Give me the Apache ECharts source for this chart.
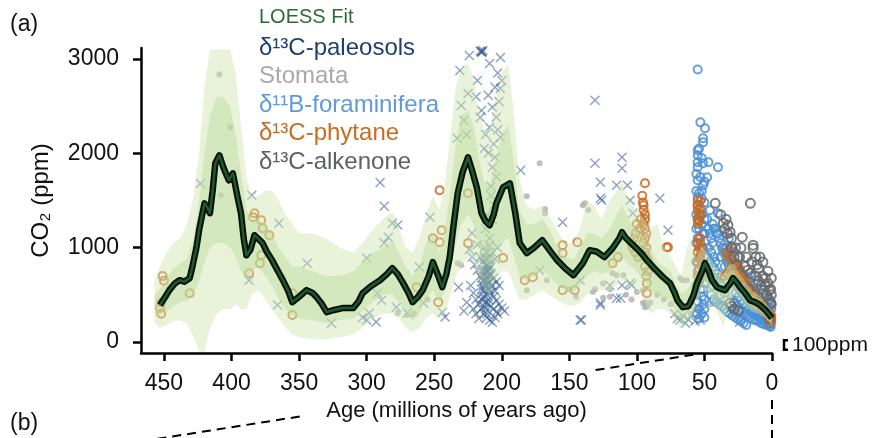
<!DOCTYPE html>
<html><head><meta charset="utf-8">
<script src="https://cdn.jsdelivr.net/npm/echarts@6/dist/echarts.min.js"></script>
<style>html,body{margin:0;padding:0;background:#fff}#main{width:872px;height:438px}</style>
</head><body><div id="main"></div>
<script>
const SANS = '"Liberation Sans",Arial,Helvetica,sans-serif';

// Axis ticks
const xTicks = [0, 50, 100, 150, 200, 250, 300, 350, 400, 450];
const yTicks = [0, 1000, 2000, 3000];

// LOESS fit: [age Ma, CO2 ppm]
const loess = [
  [453,392],[449,480],[446,550],[442,620],[438.5,656],[435,640],[431,677],[429,794],[426,1000],[424,1185],
  [422,1330],[420,1470],[418,1430],[416,1365],[414,1600],[412,1894],[409,1979],[406,1850],[404,1780],[402,1714],
  [399,1788],[395.5,1534],[393,1365],[391,1100],[389,920],[386,980],[383,1132],[380,1090],[377,1048],[374,960],
  [370,868],[366,760],[362,656],[358,540],[355,423],[350,480],[344.5,550],[340,520],[337,476],[333,400],
  [329.6,317],[324,340],[318,360],[310,360],[306,430],[303,518],[297,590],[290,656],[285,720],[281,783],
  [277,720],[273,624],[269,520],[266,423],[262,480],[258.5,550],[254,700],[251,847],[247,700],[244,582],
  [241,720],[238.5,900],[236,1200],[232.6,1577],[229,1800],[225,1958],[222,1820],[218.5,1640],[215,1365],[212,1280],
  [209,1238],[206,1350],[204,1470],[199,1640],[194,1682],[190,1365],[186.7,1048],[181.5,942],[176,1000],[170,1079],
  [166,1000],[163,942],[159,868],[153,780],[147,709],[143,780],[140,836],[135,973],[130,960],[124,900],
  [118,994],[113,1100],[111,1164],[108,1100],[105,1058],[100,990],[96,930],[92.6,868],[87,780],[80.7,688],
  [75.5,624],[72,520],[70,444],[66,370],[62,380],[60.7,413],[58,500],[55.5,624],[52,740],[49.6,836],
  [47,760],[44.4,656],[40.7,582],[37,560],[34.8,550],[31,620],[28.9,677],[26,630],[23.7,582],[20,520],
  [16.3,444],[12,420],[8.9,392],[5,340],[2,290],[0,254]
];

// Uncertainty envelopes: [age, outer low, inner low, inner high, outer high]
const bands = [
  [457,200,300,500,650],[453,150,280,560,800],[448,180,320,680,950],[443,220,380,780,1050],[438,230,420,830,1100],
  [433,200,440,880,1250],[428,50,500,1100,1550],[424,-100,650,1500,2000],[420,-100,850,2000,2700],[416,150,1000,2400,3100],
  [411,300,1050,2600,3100],[406,350,1050,2600,3100],[401,350,1000,2500,3100],[397,400,900,2200,2850],[393,350,750,1800,2300],
  [389,350,650,1400,1750],[385,500,750,1300,1550],[380,550,800,1300,1550],[375,450,700,1250,1600],[370,350,600,1150,1600],
  [365,250,450,1000,1500],[360,150,350,900,1350],[355,80,270,800,1250],[350,50,250,800,1150],[340,30,230,750,1150],
  [330,30,200,700,1100],[320,50,230,700,1000],[310,80,250,750,950],[303,150,330,850,1050],[295,250,430,950,1200],
  [288,300,500,1000,1300],[281,300,500,1080,1380],[276,250,420,950,1200],[271,150,300,800,1000],[266,100,230,700,950],
  [261,150,300,800,1100],[256,250,450,1050,1350],[251,300,550,1150,1550],[246,250,420,950,1400],[242,300,550,1200,1700],
  [238,500,750,1600,2200],[234,700,1050,2100,2700],[230,800,1250,2400,2900],[225,900,1350,2450,2950],[221,850,1250,2300,2800],
  [217,700,1000,1950,2450],[213,550,850,1700,2250],[209,500,800,1650,2250],[205,650,950,1900,2550],[200,750,1050,2200,2850],
  [195,750,1100,2300,2950],[191,600,900,1900,2400],[187,450,700,1400,1750],[182,450,650,1250,1450],[176,500,700,1250,1400],
  [170,550,750,1300,1450],[165,500,700,1200,1350],[160,450,620,1050,1200],[153,400,550,900,1050],[147,380,520,880,1050],
  [142,420,600,1000,1200],[137,500,700,1150,1500],[132,550,750,1150,1450],[126,550,720,1100,1300],[120,550,750,1200,1500],
  [115,600,850,1350,1600],[111,650,900,1450,1700],[106,600,820,1300,1500],[100,550,750,1200,1400],[95,450,650,1100,1300],
  [90,300,550,1000,1200],[85,350,500,850,1250],[80,350,480,800,1000],[75,300,430,750,900],[71,200,300,600,800],
  [67,150,250,520,700],[63,200,280,550,1000],[60,250,320,620,1100],[56,400,500,750,900],[52,550,650,880,1000],
  [48,550,620,850,950],[44,400,500,750,850],[40,300,450,680,760],[36,150,430,650,720],[32,400,520,750,820],
  [28,500,570,760,830],[24,450,500,660,720],[20,380,420,600,650],[15,320,360,500,550],[10,300,330,460,500],
  [5,250,270,390,420],[0,180,200,300,330]
];

// Proxy records: [age Ma, CO2 ppm]
const paleosols = [
  [423,1680],[385,1555],[365,1260],[387,656],[366,392],[344,836],[326,200],[300,890],[290,1690],[287,1440],
  [281,1260],[277,1240],[284,1110],[287,1050],[292,518],[289,444],[278,370],[298,307],[300,233],[293,212],
  [303,260],[270,307],[258,413],[244,317],[242,265],[253,1323],[261,794],[232,582],[222,1153],[172,762],
  [155,1270],[142,656],[127,392],[142,233],[115,465],[105,624],[127,1524],[115,1661],[107,1661],[103,1365],
  [131,2561],[131,1894],[111,1958],[111,1841],[127,1693],[126,1502],[105,1502],[83,1524],[77,1185],[112,465],
  [120,603],[111,603],[104,603],[141,233],[68,233],[53,233],[55,370],[24,212],[22,300],[127,413],[186,1820],
  [231,2878],[224,3037],[218,2772],[225,2635],[230,2508],[233,2159],[215,2455],[210,2614],[209,2952],[201,3016],
  [200,2772],[201,2688],[207,2487],[209,2275],[204,2381],[201,2169],[205,1958],[207,1852],[203,2850],[205,2700],
  [202,2550],[203,2250],[206,2100],[204,1750],[208,1650],[212,2200],[213,2050],[228,2350],[226,2200],[219,2600],
  [216,2380],[210,2000],[208,1550],[206,1450],[211,1350],[212,1200],[207,1300],[209,1100],[203,1000],
  [215,3080],[214,3090],[216,3085],[215,3070],[214.5,3075],
  [224,980],[222,900],[220,820],[218,760],[216,700],[214,650],[212,600],[210,560],[208,520],[206,480],
  [204,440],[202,400],[200,360],[198,330],[223,600],[221,520],[219,450],[217,400],[215,350],[213,300],
  [211,260],[209,230],[207,210],[205,260],[203,300],[216,900],[214,850],[212,800],[210,760],[208,720],
  [206,680],[204,640],[202,600],[213,720],[211,680],[209,640],[211,820],[209,900],[207,950],[205,880],
  [219,300],[217,250],[221,350],[213,480],[215,560],[207,600],[205,540],[210,400],[212,420],[214,470],
  [226,420],[228,330],[218,1030],[213,1000],[209,1020],
  [211,750],[212,700],[210,700],[211,650],[212,760],[210,800],[209,780],[213,650],[214,600],[210,620],
  [212,550],[211,500],[213,560],[209,560],[208,600],[211,600],[212,880],[210,880],[211,950],[213,900],
  [208,800],[214,760],[215,680],[209,700],[210,450],[212,350],[208,380],[211,300],[213,380],[206,350],
  [204,320],[215,450],
  [72,300],[70,250],[66,280],[64,200],[62,240],[59,300],[57,220]
];
const stomata = [
  [409,2836],[401,2275],[408,1555],[277,307],[270,286],[172,1894],[181.5,1545],[168,1410],[168,1365],[140,1450],
  [136,1400],[138.5,1470],[232.6,836],[230,815],[181.5,550],[166.7,656],[132.6,530],[131,560],[118,730],[115,709],
  [110,709],[98,900],[95.5,550],[94,423],[94,370],[66,656],[63,656],[68,677],[40.7,423],[36,413],
  [31,465],[27,370],[100,530],[95.5,413],[245,700],[255,450],[265,300],[150,560],[145,480],[125,620],
  [120,560],[85,500],[80,450],[75,400],[60,300],[57,350],[45,400],[18,330],[12,280],[125,470],
  [120,480],[108,500],[104,450],[92,380],[90,420]
];
const foraminifera = [
  [55,2889],[53,2328],[49.6,2265],[51,2159],[51,2116],[55,2032],[55,1979],[55,1905],[51,1894],[47,1905],
  [40,1852],[55,1852],[55,1714],[51,1661],[48,1746],[55,1534],[46,1397],[40,1365],[55,1450],[53,1400],
  [55,1300],[54,1200],[52,1250],[50,1150],[55,1100],[53,1050],[55,950],[54,880],[52,800],[55,750],
  [54,650],[53,560],[52,480],[55,430],[54,350],
  [56,1600],[54,1580],[52,1520],[50,1480],[56,1350],[52,1350],[50,1300],[56,1200],[51,1150],[56,1050],
  [51,1000],[50,900],[56,850],[51,700],[50,620],[56,600],[51,560],[50,450],[56,500],[51,400],
  [50,350],[56,300],[52,300],[54,250],[50,260],[53,1750],[52,1950],[54,2050],[56,1780],[52,1600],[50,1700],
  [48,1300],[47,1200],[46,1150],[45,1100],[44,1050],[47,1000],[45,950],[43,900],[42,850],[48,900],
  [46,850],[44,800],[42,760],[40,720],[38,680],[41,650],[39,620],[37,600],[36,560],[35,520],
  [38,500],[44,600],[46,700],[49,750],[43,1200],[41,1150],[39,1100],[37,1000],[36,950],[34,900],
  [33,850],[32,800],[31,760],[30,720],[35,800],[38,900],
  [44,1250],[42,1200],[40,1150],[38,1050],[36,1000],[34,1000],[33,950],[31,900],[29,850],[27,800],
  [25,750],[23,700],[21,650],[19,600],[17,550],[15,500],[13,480],[11,450],[9,420],[7,380],
  [5,340],[3,300],[1,260],[45,500],[43,450],[41,420],[39,400],[37,380],[35,350],[33,320],
  [31,300],[29,280],[27,260],[25,240],[23,220],[21,200],[19,180],
  [29,680],[28,650],[27,620],[26,600],[25,580],[24,560],[23,540],[22,520],[21,500],[20,480],
  [19,460],[18,440],[17,420],[16,400],[15,380],[14,360],[13,350],[12,340],[11,330],[10,320],
  [9,310],[8,300],[7,290],[6,280],[5,270],[4,260],[3,250],[2,240],[1,230],[0.5,220],
  [28,420],[26,380],[24,340],[22,320],[20,300],[18,280],[16,260],[14,240],[12,230],[10,220],
  [8,200],[6,190],[4,180],[2,170],[1,160],[27,520],[25,480],[23,440],[21,410],[19,380],
  [17,350],[15,320],[13,300],[11,280],[9,260],[7,240],[5,220],[3,200],[1,190],[20,700],
  [18,650],[16,600],[14,560],[12,520],[10,480],[8,440],[6,400],[4,360],[2,320],[24,750],
  [22,720],[26,800],[5,500],[3,450],[1,400],[0.5,350],[8,560],[15,700],[25,900],[30,1000],
  [32,1100],[28,950],[12,620]
];
const phytane = [
  [453,360],[452,420],[451,700],[450,650],[452,300],[383,1365],[378,1290],[379,836],[355,286],[246,1608],
  [244.5,1185],[246,1058],[247,423],[225,1048],[199,890],[183,656],[177,688],[155,1026],[155,942],[144,1058],
  [155,550],[146,550],[114,900],[118,836],[94,1682],[95.5,1480],[92.6,624],[92.6,518],[78,1005],[77,1005],
  [31,973],[25,762],
  [96,1550],[95,1450],[95,1400],[94,1350],[94,1300],[95,1250],[94,1200],[93,1150],[94,1100],[95,1050],
  [93,1000],[94,950],[93,900],[92,870],[94,800],[92,750],[93,700],[100,1250],[101,1150],[102,1100],
  [103,1000],[101,950],[99,900],[104,1050],[98,1200],[97,1300],
  [431,518],[384,1323],[377,1206],[372,1132],[387,730],[378,920],[355,518],[263,582],[251,1100],[225,1577],
  [53,1500],[53,1420],[53,1350],[54,1280],[53,1100],[52,1000],[53,900],[52,800],[53,700],
  [55,1500],[55,1450],[55,1400],[54,1350],[55,1300],[55,1250],[54,1100],[55,1050],[54,1000],[55,950],
  [54,900],[55,850],[54,780],[55,700],[54,650],
  [34,950],[32,900],[30,880],[28,850],[26,820],[24,780],[22,700],[20,650],[18,600],[16,560],
  [14,520],[12,480],[10,440],[8,400],[6,360],[4,330],[2,300],[1,270],[0.5,240],[21,560],
  [17,500],[13,430],[9,370],[5,320],[3,280],[1,200],
  [35,700],[33,720],[31,700],[29,720],[27,700],[25,650],[23,620],[21,600],[19,560],[17,520],
  [15,470],[13,450],[11,420],[9,400],[7,360],[5,330],[3,300],[2,260],[0.5,280],[30,800],
  [28,780],[26,760],[24,700],[22,660],[20,620],[18,580],[16,520],[14,480],[12,440],[10,400],
  [8,380],[6,340],[4,300]
];
const alkenone = [
  [42,1470],[16,1470],[36,1260],[32.6,1238],[31,1164],[22,1111],[14,994],[6.7,847],[5,677],[3,624],
  [16,730],[14,1026],[0.5,677],[31,413],[30,380],[28,350],[25,330],[20,800],[18,760],[12,700],
  [10,650],[8,600],[6,550],[4,500],[2,450],[1,420],[9,900],[11,820],[24,900],[27,1000],
  [30,1100],[34,1300],[7,380],[4,300],[2,250],[13,500],[17,560],[21,600],[3,750],[1,560],
  [38,1350],[35,1200],[33,1150],[30,1000],[28,900],[26,820],[23,1000],[19,900],[15,850],[12,900],
  [10,780],[7,700],[5,600],[2,550],[0.5,500],[0.5,400]
];

const colors = {
  loess: '#2e6b34', paleosols: '#1f3f72', stomata: '#a9a9a9',
  foraminifera: '#5f9bd8', phytane: '#c46d25', alkenone: '#5d6164'
};
const legendItems = [
  ['LOESS Fit', colors.loess],
  ['δ¹³C-paleosols', colors.paleosols],
  ['Stomata', colors.stomata],
  ['δ¹¹B-foraminifera', colors.foraminifera],
  ['δ¹³C-phytane', colors.phytane],
  ['δ¹³C-alkenone', colors.alkenone]
];

const CROSS = 'path://M1,0 L5,4 L9,0 L10,1 L6,5 L10,9 L9,10 L5,6 L1,10 L0,9 L4,5 L0,1 Z';

function ring(color, opacity) {
  return { color: 'rgba(255,255,255,0)', borderColor: color, borderWidth: 2, opacity: opacity };
}

function bandSeries(name, lowCol, highCol, fill) {
  return {
    name: name, type: 'custom', coordinateSystem: 'cartesian2d', clip: true, silent: true, z: 5,
    data: [[bands[0][0], bands[0][lowCol]]],
    renderItem: function (params, api) {
      const pts = [];
      for (let i = 0; i < bands.length; i++) pts.push(api.coord([bands[i][0], bands[i][highCol]]));
      for (let i = bands.length - 1; i >= 0; i--) pts.push(api.coord([bands[i][0], bands[i][lowCol]]));
      return { type: 'polygon', shape: { points: pts }, style: { fill: fill } };
    }
  };
}

const plain = function (v) { return String(v); };

const chart = echarts.init(document.getElementById('main'));
const option = {
  animation: false,
  backgroundColor: '#fff',
  grid: { left: 141, right: 100, top: 48, bottom: 85 },
  xAxis: {
    type: 'value', inverse: true, min: 0, max: 467, position: 'bottom',
    name: 'Age (millions of years ago)', nameLocation: 'middle', nameGap: 47,
    nameTextStyle: { fontFamily: SANS, fontSize: 22, color: '#111' },
    axisLine: { show: true, onZero: false, lineStyle: { color: '#000', width: 2.5 } },
    axisTick: { show: true, customValues: xTicks, length: 8, lineStyle: { color: '#000', width: 2.5 } },
    axisLabel: { customValues: xTicks, formatter: plain, fontFamily: SANS, fontSize: 23, color: '#111', margin: 19 },
    splitLine: { show: false }
  },
  yAxis: {
    type: 'value', min: -116, max: 3116, position: 'left',
    name: 'CO₂ (ppm)', nameLocation: 'middle', nameGap: 88, nameRotate: 90,
    nameTextStyle: { fontFamily: SANS, fontSize: 24, color: '#111' },
    axisLine: { show: true, onZero: false, lineStyle: { color: '#000', width: 2.5 } },
    axisTick: { show: true, customValues: yTicks, length: 8, lineStyle: { color: '#000', width: 2.5 } },
    axisLabel: { customValues: yTicks, formatter: plain, fontFamily: SANS, fontSize: 23, color: '#111', margin: 22 },
    splitLine: { show: false }
  },
  series: [
    { name: 'δ¹³C-paleosols', type: 'scatter', data: paleosols, symbol: CROSS, symbolSize: 10, z: 2,
      itemStyle: { color: '#2b5591', opacity: 0.55 } },
    { name: 'Stomata', type: 'scatter', data: stomata, symbol: 'circle', symbolSize: 6, z: 2,
      itemStyle: { color: '#b3b3b3', opacity: 0.85 } },
    { name: 'δ¹¹B-foraminifera', type: 'scatter', data: foraminifera, symbol: 'circle', symbolSize: 8, z: 2,
      itemStyle: ring('#4a8fd6', 0.85) },
    { name: 'δ¹³C-phytane', type: 'scatter', data: phytane, symbol: 'circle', symbolSize: 8, z: 2,
      itemStyle: ring('#c8691d', 0.85) },
    { name: 'δ¹³C-alkenone', type: 'scatter', data: alkenone, symbol: 'circle', symbolSize: 9, z: 2,
      itemStyle: ring('#65686b', 0.85) },
    bandSeries('95% envelope', 1, 4, 'rgba(206,228,173,0.45)'),
    bandSeries('68% envelope', 2, 3, 'rgba(186,219,156,0.45)'),
    { name: 'LOESS outline', type: 'line', data: loess, showSymbol: false, z: 8,
      lineStyle: { color: '#0b0f0b', width: 6.5, join: 'round' } },
    { name: 'LOESS Fit', type: 'line', data: loess, showSymbol: false, z: 9,
      lineStyle: { color: '#1d5a2b', width: 2.5, join: 'round' } }
  ]
};
chart.setOption(option);

// Annotations: legend texts, panel letters, scale bar and zoom guide lines
const g = [];
legendItems.forEach(function (it, i) {
  g.push({ type: 'text', x: 259, y: i === 0 ? 17 : 48 + (i - 1) * 28.5, z: 20,
    style: { text: it[0], fill: it[1], font: (i === 0 ? '20px ' : '24px ') + SANS, align: 'left', verticalAlign: 'middle' } });
});
g.push({ type: 'text', x: 10, y: 25, style: { text: '(a)', fill: '#111', font: '23px ' + SANS, verticalAlign: 'middle' } });
g.push({ type: 'text', x: 10, y: 424, style: { text: '(b)', fill: '#111', font: '23px ' + SANS, verticalAlign: 'middle' } });

const pTop = chart.convertToPixel({ gridIndex: 0 }, [0, 20]);
const pBot = chart.convertToPixel({ gridIndex: 0 }, [0, -82]);
const bx = pTop[0] + 12;
g.push({ type: 'polyline', z: 20, shape: { points: [[bx + 4, pTop[1]], [bx, pTop[1]], [bx, pBot[1]], [bx + 4, pBot[1]]] },
  style: { stroke: '#000', lineWidth: 2.5, fill: null } });
g.push({ type: 'text', x: bx + 8, y: (pTop[1] + pBot[1]) / 2, style: { text: '100ppm', fill: '#111', font: '21px ' + SANS, verticalAlign: 'middle' } });

const a50 = chart.convertToPixel({ gridIndex: 0 }, [50, -116]);
const a0 = chart.convertToPixel({ gridIndex: 0 }, [0, -116]);
const far = [150, 440];
function along(t) { return [a50[0] + (far[0] - a50[0]) * t, a50[1] + (far[1] - a50[1]) * t]; }
const dash = { stroke: '#000', lineWidth: 2, lineDash: [9, 6], fill: null };
g.push({ type: 'line', z: 20, shape: { x1: along(0.02)[0], y1: along(0.02)[1], x2: along(0.2)[0], y2: along(0.2)[1] }, style: dash });
g.push({ type: 'line', z: 20, shape: { x1: along(0.73)[0], y1: along(0.73)[1], x2: far[0], y2: far[1] }, style: dash });
g.push({ type: 'line', z: 20, shape: { x1: a0[0], y1: 400, x2: a0[0], y2: 438 }, style: dash });
chart.setOption({ graphic: g });
</script></body></html>
